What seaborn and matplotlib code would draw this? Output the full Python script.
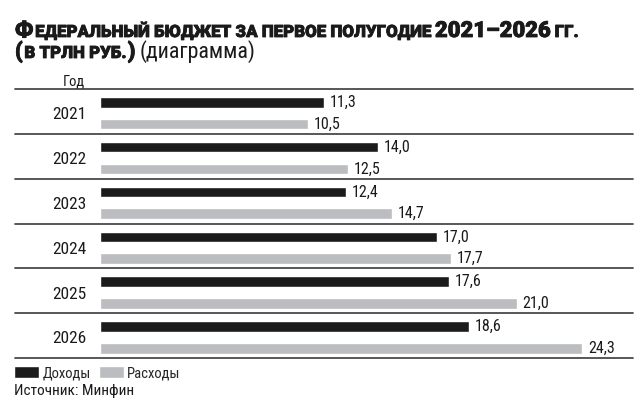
import matplotlib
matplotlib.use("Agg")
import matplotlib.pyplot as plt
import matplotlib.patheffects as pe
import seaborn as sns
import pandas as pd

# values from the chart (trillion rubles, first half-year)
years = ["2021", "2022", "2023", "2024", "2025", "2026"]
income = [11.3, 14.0, 12.4, 17.0, 17.6, 18.6]
spending = [10.5, 12.5, 14.7, 17.7, 21.0, 24.3]
series_names = ["Доходы", "Расходы"]

df = pd.DataFrame({
    "year": years * 2,
    "value": income + spending,
    "kind": [series_names[0]] * len(years) + [series_names[1]] * len(years),
})

sns.set_theme(style="white")
plt.rcParams["font.family"] = ["Roboto Condensed", "Roboto", "DejaVu Sans"]

W, H = 640, 401
fig = plt.figure(figsize=(W / 100, H / 100), dpi=100)

# axes: x from 100px to 633px, y from 89px to 358px
ax = fig.add_axes([100 / W, 1 - 358 / H, 533 / W, 269 / H])

palette = {"Доходы": "#1b1b1b", "Расходы": "#bcbdc0"}
sns.barplot(data=df, x="value", y="year", hue="kind", orient="h",
            palette=palette, width=0.97, gap=0.51, ax=ax, saturation=1)

ax.set_xlim(0, 533 / 19.85)
ax.set_ylim(5.46, -0.54)
for s in ax.spines.values():
    s.set_visible(False)
ax.set_xticks([])
ax.set_xlabel("")
ax.set_ylabel("")
ax.tick_params(axis="y", length=0, pad=9.5, labelsize=12.5, labelcolor="#1a1a1a")

# row separators reaching past the axes on the left
for k in range(-1, len(years)):
    ax.axhline(k + 0.46, xmin=-85 / 533, xmax=1, color="#4a4a4a",
               lw=1.3, clip_on=False)

# value labels
for cont in ax.containers:
    labels = [f"{b.get_width():.1f}".replace(".", ",") for b in cont]
    ax.bar_label(cont, labels=labels, padding=4, fontsize=11.5, color="#1a1a1a")

sns.move_legend(ax, "lower left", bbox_to_anchor=(14 / W, 1 - 380 / H),
                bbox_transform=fig.transFigure, ncol=2, frameon=False,
                title=None, fontsize=10.5, handlelength=1.7, handleheight=0.9,
                handletextpad=0.25, columnspacing=0.55, borderaxespad=0,
                borderpad=0)

fig.text(63 / W, 1 - 86 / H, "Год", fontsize=10.5, color="#1a1a1a")
fig.text(14 / W, 1 - 395 / H, "Источник: Минфин", fontsize=11, color="#1a1a1a")

# title imitating small caps: pieces placed one after another
renderer = fig.canvas.get_renderer()
heavy = [pe.withStroke(linewidth=0.6, foreground="#1a1a1a")]
TITLE_FONT = ["Roboto", "DejaVu Sans"]
NOTE_FONT = ["Roboto Condensed", "Roboto", "DejaVu Sans"]


def text_run(x, y, pieces, scale=1.0):
    made = []
    for txt, size, weight, gap in pieces:
        bold = weight != "normal"
        t = fig.text(x / W, 1 - y / H, txt, fontsize=size * scale,
                     weight=weight, color="#1a1a1a",
                     family=TITLE_FONT if bold else NOTE_FONT,
                     path_effects=heavy if bold else None)
        made.append(t)
        bb = t.get_window_extent(renderer)
        x = bb.x1 + gap * scale
    return made, x


BIG, SMALL = 15, 11.5
line1 = [
    ("Ф", BIG, "black", 1.5),
    ("ЕДЕРАЛЬНЫЙ БЮДЖЕТ ЗА ПЕРВОЕ ПОЛУГОДИЕ", SMALL, "black", 4),
    ("2021–2026", BIG, "black", 4),
    ("ГГ.", SMALL, "black", 0),
]
line2 = [
    ("(", BIG, "black", 1.5),
    ("В ТРЛН РУБ.", SMALL, "black", 1.5),
    (")", BIG, "black", 3.5),
    ("(диаграмма)", BIG, "normal", 0),
]

# fit the first title line to the width seen in the chart
made, x_end = text_run(15, 37, line1)
fit = (581 - 15) / (x_end - 15)
for t in made:
    t.remove()
text_run(15, 37, line1, fit)
text_run(15, 58, line2, fit)

fig.savefig("out.png", dpi=100)
